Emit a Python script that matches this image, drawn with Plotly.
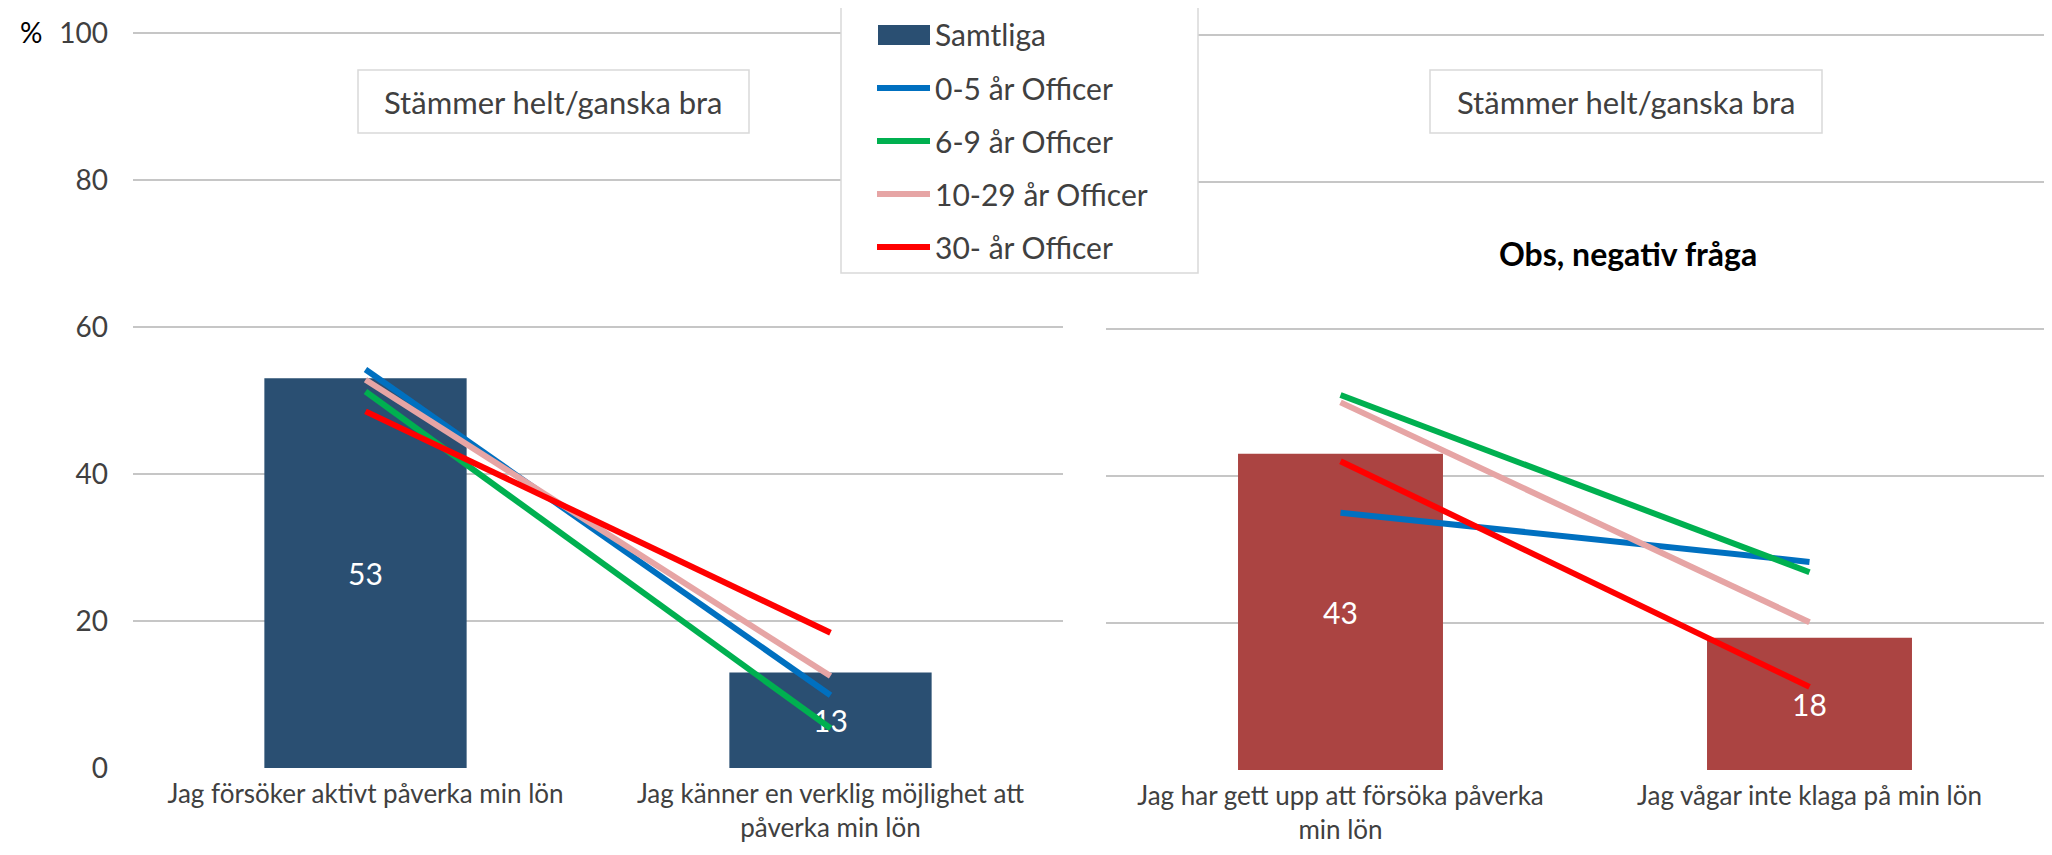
import plotly.graph_objects as go

W, H = 2052, 855
OFF = 8  # page body margin, the figure starts 8px in from the window corner

# categories (x labels)
cats_left = ["Jag försöker aktivt påverka min lön",
             "Jag känner en verklig möjlighet att<br>påverka min lön"]
cats_right = ["Jag har gett upp att försöka påverka<br>min lön",
              "Jag vågar inte klaga på min lön"]

# bars - all respondents
samtliga_left = [53, 13]
samtliga_right = [43, 18]

# lines - officer groups
group_names = ["0-5 år Officer", "6-9 år Officer", "10-29 år Officer", "30- år Officer"]
group_colors = ["#0070C0", "#00B050", "#E6A5A5", "#FF0000"]
left_0_5 = [54.2, 9.9]
left_6_9 = [51.2, 5.4]
left_10_29 = [52.8, 12.5]
left_30 = [48.5, 18.4]
right_0_5 = [35.0, 28.3]
right_6_9 = [51.0, 26.9]
right_10_29 = [50.0, 20.1]
right_30 = [42.0, 11.3]

y_ticks = [0, 20, 40, 60, 80, 100]

FONT = "Lato, 'Open Sans', sans-serif"
TXT = "#404040"
GRID = "#C6C6C6"
BAR_LEFT = "#2A4F72"
BAR_RIGHT = "#AB4442"

FW, FH = W - 2 * OFF, H - 2 * OFF
PX_PER_UNIT = 7.353
Y_TOP = 101  # a bit above 100 so the top gridline is drawn


def px(x):
    return (x - OFF) / FW


def py(y):
    return 1 - (y - OFF) / FH


fig = go.Figure()

# left panel
fig.add_trace(go.Bar(x=cats_left, y=samtliga_left, width=0.435,
                     marker=dict(color=BAR_LEFT, line=dict(width=0)),
                     text=samtliga_left, textposition="inside",
                     insidetextanchor="middle",
                     textfont=dict(color="white", size=30, family=FONT),
                     xaxis="x", yaxis="y", showlegend=False, hoverinfo="skip"))
for name, col, vals in zip(group_names, group_colors,
                           [left_0_5, left_6_9, left_10_29, left_30]):
    fig.add_trace(go.Scatter(x=cats_left, y=vals, mode="lines", name=name,
                             line=dict(color=col, width=6), xaxis="x", yaxis="y",
                             showlegend=False))

# right panel
fig.add_trace(go.Bar(x=cats_right, y=samtliga_right, width=0.437,
                     marker=dict(color=BAR_RIGHT, line=dict(width=0)),
                     text=samtliga_right, textposition="inside",
                     insidetextanchor="middle",
                     textfont=dict(color="white", size=30, family=FONT),
                     xaxis="x2", yaxis="y2", showlegend=False, hoverinfo="skip"))
for name, col, vals in zip(group_names, group_colors,
                           [right_0_5, right_6_9, right_10_29, right_30]):
    fig.add_trace(go.Scatter(x=cats_right, y=vals, mode="lines", name=name,
                             line=dict(color=col, width=6), xaxis="x2", yaxis="y2",
                             showlegend=False))

xax = dict(showgrid=False, zeroline=False, showline=False, ticks="", automargin=False,
           tickfont=dict(size=26, color=TXT, family=FONT), ticklabelstandoff=8,
           fixedrange=True)
yax = dict(range=[0, Y_TOP], tickvals=y_ticks, showgrid=True, gridcolor=GRID, gridwidth=2,
           zeroline=False, showline=False, ticks="", fixedrange=True, automargin=False,
           tickfont=dict(size=28, color=TXT, family=FONT))

zero_l, zero_r = 768, 770
fig.update_layout(
    width=FW, height=FH,
    margin=dict(l=0, r=0, t=0, b=0),
    paper_bgcolor="white", plot_bgcolor="white",
    font=dict(family=FONT, color=TXT),
    xaxis=dict(domain=[px(133), px(1063)], anchor="y", **xax),
    xaxis2=dict(domain=[px(1106), px(2044)], anchor="y2", **xax),
    yaxis=dict(domain=[py(zero_l), py(zero_l - Y_TOP * PX_PER_UNIT)], anchor="x",
               ticklabelstandoff=24, **yax),
    yaxis2=dict(domain=[py(zero_r), py(zero_r - Y_TOP * PX_PER_UNIT)], anchor="x2",
                showticklabels=False, **yax),
    showlegend=False,
)

shapes = []
annotations = []


def label(x, y, text, size, color=TXT, xanchor="center"):
    annotations.append(dict(x=px(x), y=py(y), xref="paper", yref="paper",
                            xanchor=xanchor, yanchor="middle", text=text,
                            showarrow=False,
                            font=dict(size=size, color=color, family=FONT)))


# "%" label
label(31, 32, "%", 28, color="black")

# panel title boxes
for x0, x1 in [(358, 749), (1430, 1822)]:
    shapes.append(dict(type="rect", xref="paper", yref="paper",
                       x0=px(x0), x1=px(x1), y0=py(133), y1=py(70),
                       line=dict(color="#D9D9D9", width=1.5), fillcolor="white"))
    label((x0 + x1) / 2, 102, "Stämmer helt/ganska bra", 31)

label(1628, 253, "<b>Obs, negativ fråga</b>", 32, color="black")

# legend box (drawn by hand to match the spacing)
shapes.append(dict(type="rect", xref="paper", yref="paper",
                   x0=px(841), x1=px(1198), y0=py(273), y1=py(7),
                   line=dict(color="#D9D9D9", width=1.5), fillcolor="white", layer="above"))
shapes.append(dict(type="rect", xref="paper", yref="paper",
                   x0=px(878), x1=px(930), y0=py(45), y1=py(25),
                   line=dict(width=0), fillcolor=BAR_LEFT, layer="above"))
label(933, 34, "Samtliga", 30, xanchor="left")
for i, (name, col) in enumerate(zip(group_names, group_colors)):
    yc = 88 + i * 53
    shapes.append(dict(type="line", xref="paper", yref="paper",
                       x0=px(877), x1=px(930), y0=py(yc), y1=py(yc),
                       line=dict(color=col, width=6), layer="above"))
    label(933, yc, name, 30, xanchor="left")

fig.update_layout(shapes=shapes, annotations=annotations)

fig.write_html("out.html")
